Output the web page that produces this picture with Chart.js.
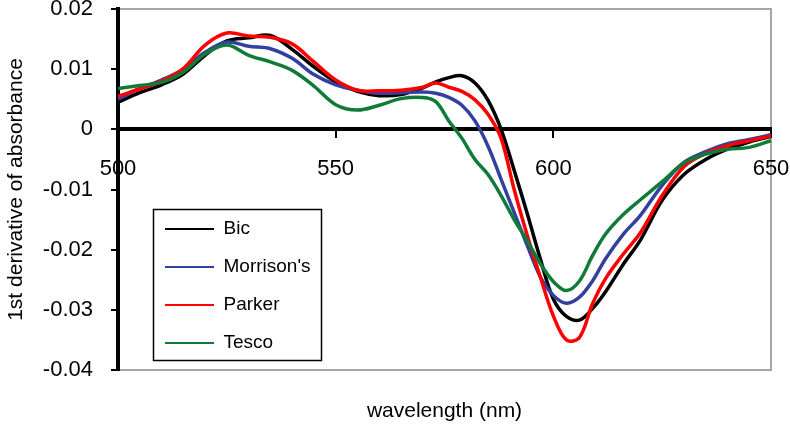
<!DOCTYPE html>
<html>
<head>
<meta charset="utf-8">
<script src="https://cdn.jsdelivr.net/npm/chart.js@4/dist/chart.umd.min.js"></script>
<style>
  html, body { margin: 0; padding: 0; background: #fff; }
  #wrap { width: 790px; height: 424px; }
</style>
</head>
<body>
<div id="wrap"><canvas id="chart" width="790" height="424"></canvas></div>
<script>
// First derivative spectra

const wavelength = [500, 505, 510, 515, 520, 525, 530, 535, 540, 545, 550, 555, 560, 565, 570,
  573, 576, 579, 582, 585, 588, 591, 594, 597, 600, 603, 606, 609, 612,
  616, 620, 625, 630, 635, 640, 645, 650];

const bic = [0.0045, 0.0061, 0.0074, 0.0092, 0.0123, 0.0147, 0.0152, 0.0156, 0.0133, 0.0104, 0.0079, 0.0063, 0.0056, 0.0058, 0.0069,
  0.0079, 0.0086, 0.0089, 0.0077, 0.0048, 0.0000, -0.0068, -0.0140, -0.0215, -0.0282, -0.0311, -0.0317, -0.0298, -0.0270,
  -0.0225, -0.0184, -0.0118, -0.0075, -0.0050, -0.0033, -0.0021, -0.0012];

const morrisons = [0.0050, 0.0068, 0.0082, 0.0100, 0.0128, 0.0145, 0.0138, 0.0134, 0.0118, 0.0091, 0.0074, 0.0065, 0.0060, 0.0061, 0.0062,
  0.0060, 0.0053, 0.0040, 0.0014, -0.0028, -0.0083, -0.0138, -0.0193, -0.0245, -0.0276, -0.0289, -0.0279, -0.0252, -0.0215,
  -0.0175, -0.0143, -0.0093, -0.0055, -0.0037, -0.0024, -0.0017, -0.0009];

const parker = [0.0055, 0.0067, 0.0080, 0.0101, 0.0140, 0.0160, 0.0155, 0.0153, 0.0142, 0.0112, 0.0082, 0.0065, 0.0064, 0.0065, 0.0070,
  0.0077, 0.0070, 0.0063, 0.0049, 0.0025, -0.0015, -0.0100, -0.0176, -0.0245, -0.0310, -0.0350, -0.0346, -0.0290, -0.0248,
  -0.0208, -0.0172, -0.0110, -0.0062, -0.0040, -0.0027, -0.0019, -0.0011];

const tesco = [0.0068, 0.0073, 0.0078, 0.0095, 0.0125, 0.0140, 0.0123, 0.0112, 0.0098, 0.0072, 0.0041, 0.0032, 0.0040, 0.0051, 0.0053,
  0.0046, 0.0014, -0.0015, -0.0050, -0.0075, -0.0110, -0.0150, -0.0185, -0.0223, -0.0253, -0.0268, -0.0252, -0.0210, -0.0174,
  -0.0142, -0.0117, -0.0087, -0.0056, -0.0041, -0.0033, -0.0030, -0.0019];

const seriesNames = ['Bic', "Morrison's", 'Parker', 'Tesco'];
const seriesColors = ['#000000', '#3340a0', '#ff0000', '#107b38'];

Chart.defaults.font.family = '"Liberation Sans", Arial, sans-serif';
Chart.defaults.color = '#000';

function makeSeries(idx, values) {
  return {
    label: seriesNames[idx],
    data: wavelength.map((w, i) => ({ x: w, y: values[i] })),
    borderColor: seriesColors[idx],
    backgroundColor: seriesColors[idx],
    borderWidth: 3.5,
    pointRadius: 0,
    tension: 0.35,
    fill: false,
    order: 4 - idx // later series drawn on top, like the original
  };
}

// Plot frame and legend box placement (Excel style)
const framePlugin = {
  id: 'frame',
  beforeDraw(chart) {
    const { ctx, chartArea: a } = chart;
    ctx.save();
    ctx.strokeStyle = '#a6a6a6';
    ctx.lineWidth = 2;
    ctx.strokeRect(a.left, a.top, a.right - a.left, a.bottom - a.top);
    ctx.restore();
  },
  afterUpdate(chart) {
    const lg = chart.legend;
    lg.left = 146;
    lg.top = 200.5;
    lg.width = 180;
    lg.height = 220;
    lg.right = lg.left + lg.width;
    lg.bottom = lg.top + lg.height;
  },
  afterDraw(chart) {
    const ctx = chart.ctx;
    ctx.save();
    ctx.strokeStyle = '#000';
    ctx.lineWidth = 1.5;
    ctx.strokeRect(153.5, 209.5, 168, 151);
    ctx.restore();
  }
};

new Chart(document.getElementById('chart'), {
  type: 'line',
  data: {
    datasets: [
      makeSeries(0, bic),
      makeSeries(1, morrisons),
      makeSeries(2, parker),
      makeSeries(3, tesco)
    ]
  },
  options: {
    responsive: false,
    animation: false,
    events: [],
    layout: { padding: { left: 0, right: 19, top: 9, bottom: 0 } },
    plugins: {
      tooltip: { enabled: false },
      legend: {
        position: 'chartArea',
        align: 'start',
        labels: {
          usePointStyle: true,
          pointStyle: 'line',
          pointStyleWidth: 49,
          padding: 19,
          color: '#000',
          font: { size: 19 },
          sort: (a, b) => a.datasetIndex - b.datasetIndex,
          generateLabels(chart) {
            return Chart.defaults.plugins.legend.labels.generateLabels(chart)
              .map(item => Object.assign(item, { lineWidth: 2, pointStyle: 'line' }));
          }
        }
      }
    },
    scales: {
      x: {
        type: 'linear',
        min: 500,
        max: 650,
        position: { y: 0 },
        ticks: { stepSize: 50, padding: 19, color: '#000', font: { size: 22 }, maxRotation: 0, autoSkip: false },
        grid: { display: true, drawOnChartArea: false, drawTicks: true, tickLength: 7, tickColor: '#000', lineWidth: 2 },
        border: { display: true, color: '#000', width: 4 },
        afterFit(s) { s.paddingLeft = 0; s.paddingRight = 0; }
      },
      x2: {
        type: 'linear',
        min: 500,
        max: 650,
        position: 'bottom',
        ticks: { display: false },
        grid: { display: false },
        border: { display: false },
        title: { display: true, text: 'wavelength (nm)', color: '#000', font: { size: 21 }, padding: { top: 0, bottom: 0 } },
        afterFit(s) { s.height = 54; s.paddingLeft = 0; s.paddingRight = 0; }
      },
      y: {
        type: 'linear',
        min: -0.04,
        max: 0.02,
        ticks: {
          stepSize: 0.01,
          padding: 18,
          color: '#000',
          font: { size: 22, lineHeight: 1 },
          callback: v => String(Math.round(v * 100) / 100)
        },
        grid: { display: true, drawOnChartArea: false, drawTicks: true, tickLength: 7, tickColor: '#000', lineWidth: 2 },
        border: { display: true, color: '#000', width: 4 },
        title: { display: true, text: '1st derivative of absorbance', color: '#000', font: { size: 21 }, padding: { top: 4, bottom: 0 } },
        afterFit(s) { s.width = 118; s.paddingTop = 0; s.paddingBottom = 0; }
      }
    }
  },
  plugins: [framePlugin]
});
</script>
</body>
</html>
